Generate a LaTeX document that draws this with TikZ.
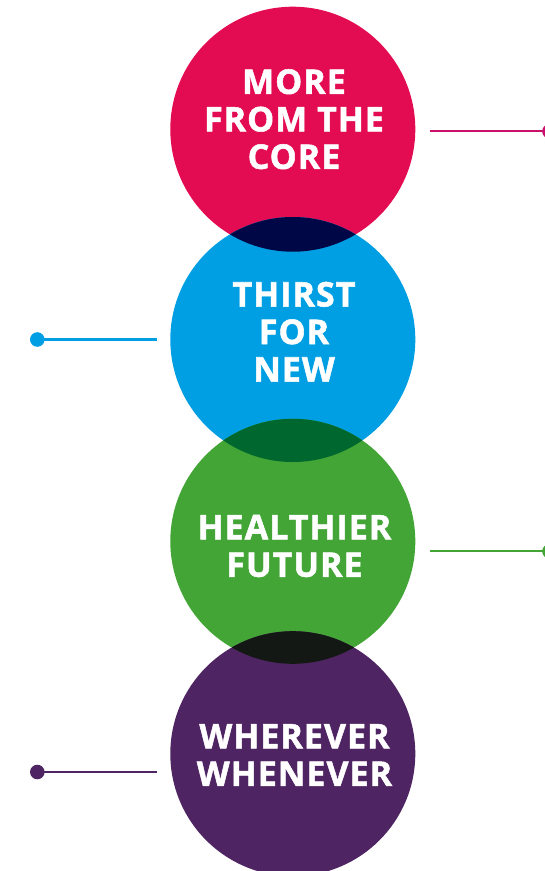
\documentclass[tikz,border=0pt]{standalone}
\usepackage{fontspec}
\setmainfont{Open Sans}[BoldFeatures={FakeBold=1.5,LetterSpace=3}]
\definecolor{cred}{RGB}{227,11,82}
\definecolor{cblue}{RGB}{0,159,227}
\definecolor{cgreen}{RGB}{66,165,53}
\definecolor{cpurple}{RGB}{78,37,98}
\definecolor{credline}{RGB}{201,16,106}
% overlap tones (product of the two neighbouring fills)
\definecolor{rbmix}{RGB}{0,7,70}
\definecolor{bgmix}{RGB}{0,103,47}
\definecolor{gpmix}{RGB}{20,24,20}
\tikzset{
  bubble/.style={circle, minimum size=245pt, inner sep=0pt, fill=#1},
  caption/.style={text=white, align=center, inner sep=0pt,
    font=\fontsize{34}{37.5}\selectfont\bfseries},
  pin/.style={circle, minimum size=14.6pt, inner sep=0pt, fill=#1},
  leader/.style={draw=#1, line width=2.2pt},
}
\begin{document}
\begin{tikzpicture}[x=1pt,y=-1pt]
\useasboundingbox (0,0) rectangle (545,871);

% main circles
\node[bubble=cred]    (c1) at (292.8,129.2) {};
\node[bubble=cblue]   (c2) at (292.8,339.5) {};
\node[bubble=cgreen]  (c3) at (292.8,541.3) {};
\node[bubble=cpurple] (c4) at (292.8,753.7) {};

% overlapping lenses
\begin{scope}
  \clip (c1.center) circle (122.5);
  \fill[rbmix] (c2.center) circle (122.5);
\end{scope}
\begin{scope}
  \clip (c2.center) circle (122.5);
  \fill[bgmix] (c3.center) circle (122.5);
\end{scope}
\begin{scope}
  \clip (c3.center) circle (122.5);
  \fill[gpmix] (c4.center) circle (122.5);
\end{scope}

% captions
\node[caption] (t1) at (294,119.2) {MORE\\FROM THE\\CORE};
\node[caption] (t2) at (294,331.7) {THIRST\\FOR\\NEW};
\node[caption] (t3) at (294.5,546) {HEALTHIER\\FUTURE};
\node[caption] (t4) at (294.5,754.9) {WHEREVER\\WHENEVER};

% leader lines with end dots
\coordinate (a1) at (430,131.3);
\node[pin=credline] (p1) at (549.5,131.3) {};
\draw[leader=credline] (a1) -- (p1.center);

\coordinate (a2) at (156.7,339.5);
\node[pin=cblue] (p2) at (37.3,339.5) {};
\draw[leader=cblue] (a2) -- (p2.center);

\coordinate (a3) at (430,551.3);
\node[pin=cgreen] (p3) at (549.5,551.3) {};
\draw[leader=cgreen] (a3) -- (p3.center);

\coordinate (a4) at (156.7,772);
\node[pin=cpurple] (p4) at (37.3,772) {};
\draw[leader=cpurple] (a4) -- (p4.center);
\end{tikzpicture}
\end{document}
